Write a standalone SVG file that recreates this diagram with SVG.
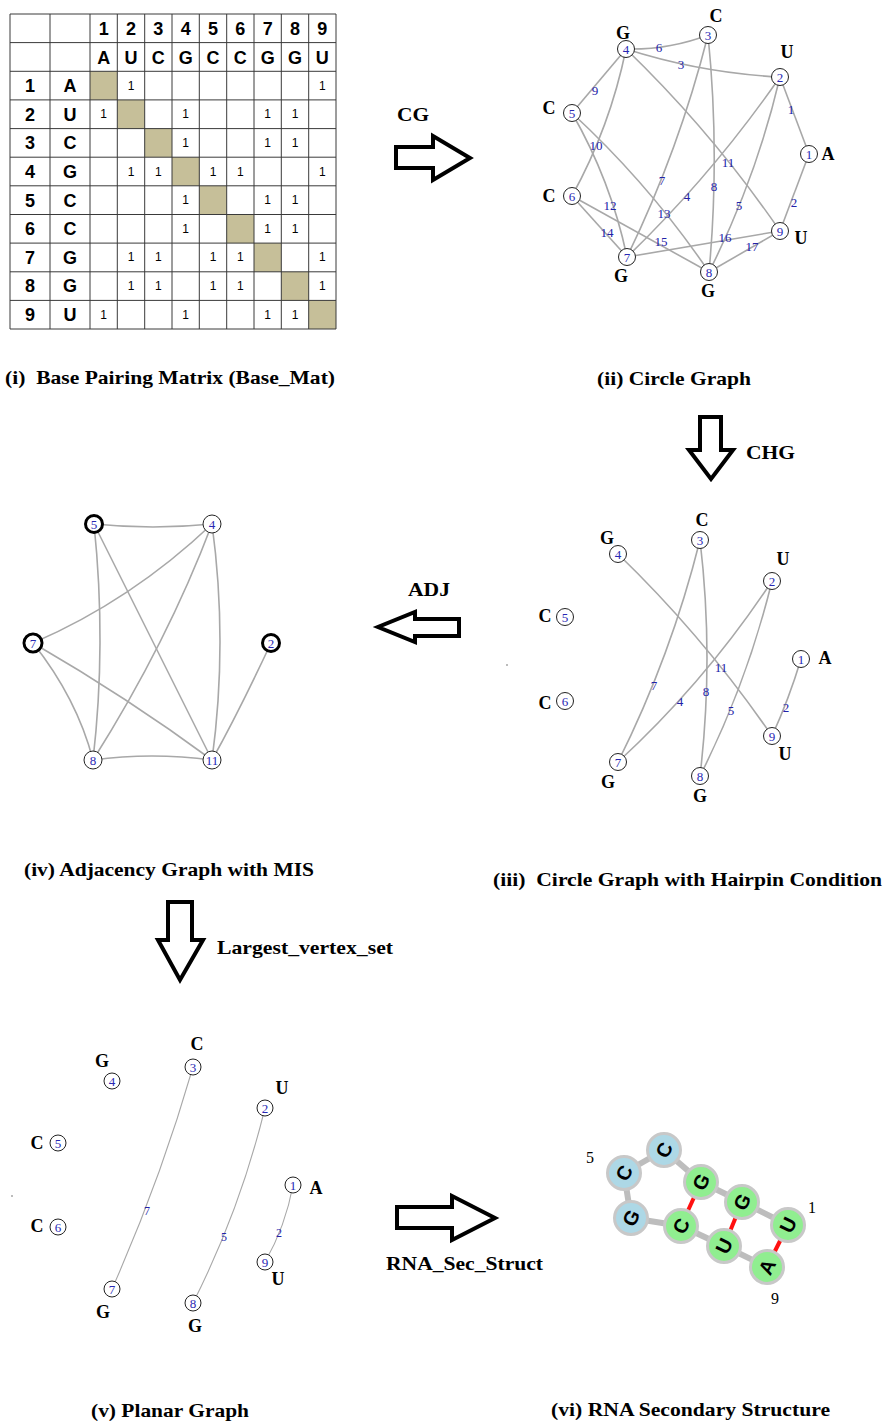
<svg xmlns="http://www.w3.org/2000/svg" width="885" height="1422" viewBox="0 0 885 1422">
<style>
.grid line{stroke:#3a3a3a;stroke-width:1}
.hd{font-family:"Liberation Sans",Arial,sans-serif;font-weight:bold;font-size:18px;fill:#000;text-anchor:middle;dominant-baseline:central}
.one{font-family:"Liberation Sans",Arial,sans-serif;font-size:12px;fill:#000;text-anchor:middle;dominant-baseline:central}
.diag{fill:#c6bf99}
.e{fill:none;stroke:#a8a8a8;stroke-width:1.6}
.e2{fill:none;stroke:#a8a8a8;stroke-width:1.1}
.nd{fill:#fff;stroke:#222;stroke-width:1}
.mis{fill:#fff;stroke:#000;stroke-width:3}
.nn{font-family:"Liberation Serif","Times New Roman",serif;font-size:13px;fill:#2828b4;text-anchor:middle;dominant-baseline:central}
.el{font-family:"Liberation Serif","Times New Roman",serif;font-size:13px;fill:#2222a8;text-anchor:middle;dominant-baseline:central}
.el2{font-family:"Liberation Serif","Times New Roman",serif;font-size:12px;fill:#2222a8;text-anchor:middle;dominant-baseline:central}
.bl{font-family:"Liberation Serif","Times New Roman",serif;font-weight:bold;font-size:18px;fill:#000;text-anchor:middle;dominant-baseline:central}
.cap{font-family:"Liberation Serif","Times New Roman",serif;font-weight:bold;font-size:19px;fill:#000}
.arr{fill:#fff;stroke:#000;stroke-width:4;stroke-linejoin:miter}
.bb{stroke:#bdbdbd;stroke-width:6}
.bp{stroke:#ff1010;stroke-width:4}
.rc{stroke:#c8c8c8;stroke-width:3}
.blue{fill:#add8e6}
.green{fill:#90ee90}
.rl{font-family:"Liberation Sans",Arial,sans-serif;font-weight:bold;font-size:20px;fill:#000;text-anchor:middle;dominant-baseline:central}
.num{font-family:"Liberation Serif","Times New Roman",serif;font-size:16px;fill:#000;text-anchor:middle;dominant-baseline:central}
</style>
<rect x="0" y="0" width="885" height="1422" fill="#fff"/>

<!-- (i) matrix -->
<g id="matrix">
  <g class="diag">
    <rect x="90" y="71.3" width="27.3" height="28.6"/>
    <rect x="117.3" y="99.9" width="27.4" height="28.7"/>
    <rect x="144.7" y="128.6" width="27.3" height="28.6"/>
    <rect x="172" y="157.2" width="27.3" height="28.6"/>
    <rect x="199.3" y="185.8" width="27.4" height="28.7"/>
    <rect x="226.7" y="214.5" width="27.3" height="28.6"/>
    <rect x="254" y="243.1" width="27.3" height="28.7"/>
    <rect x="281.3" y="271.8" width="27.4" height="28.6"/>
    <rect x="308.7" y="300.4" width="27.3" height="28.6"/>
  </g>
  <g class="grid">
    <line x1="10" y1="14" x2="10" y2="329"/><line x1="50" y1="14" x2="50" y2="329"/><line x1="90" y1="14" x2="90" y2="329"/>
    <line x1="117.3" y1="14" x2="117.3" y2="329"/><line x1="144.7" y1="14" x2="144.7" y2="329"/><line x1="172" y1="14" x2="172" y2="329"/>
    <line x1="199.3" y1="14" x2="199.3" y2="329"/><line x1="226.7" y1="14" x2="226.7" y2="329"/><line x1="254" y1="14" x2="254" y2="329"/>
    <line x1="281.3" y1="14" x2="281.3" y2="329"/><line x1="308.7" y1="14" x2="308.7" y2="329"/><line x1="336" y1="14" x2="336" y2="329"/>
    <line x1="10" y1="14" x2="336" y2="14"/><line x1="10" y1="42.6" x2="336" y2="42.6"/><line x1="10" y1="71.3" x2="336" y2="71.3"/>
    <line x1="10" y1="99.9" x2="336" y2="99.9"/><line x1="10" y1="128.6" x2="336" y2="128.6"/><line x1="10" y1="157.2" x2="336" y2="157.2"/>
    <line x1="10" y1="185.8" x2="336" y2="185.8"/><line x1="10" y1="214.5" x2="336" y2="214.5"/><line x1="10" y1="243.1" x2="336" y2="243.1"/>
    <line x1="10" y1="271.8" x2="336" y2="271.8"/><line x1="10" y1="300.4" x2="336" y2="300.4"/><line x1="10" y1="329" x2="336" y2="329"/>
  </g>
  <g class="hd">
    <text x="103.7" y="29">1</text><text x="131" y="29">2</text><text x="158.3" y="29">3</text><text x="185.7" y="29">4</text><text x="213" y="29">5</text><text x="240.3" y="29">6</text><text x="267.7" y="29">7</text><text x="295" y="29">8</text><text x="322.3" y="29">9</text>
    <text x="103.7" y="57.5">A</text><text x="131" y="57.5">U</text><text x="158.3" y="57.5">C</text><text x="185.7" y="57.5">G</text><text x="213" y="57.5">C</text><text x="240.3" y="57.5">C</text><text x="267.7" y="57.5">G</text><text x="295" y="57.5">G</text><text x="322.3" y="57.5">U</text>
    <text x="30" y="86">1</text><text x="70" y="86">A</text>
    <text x="30" y="114.6">2</text><text x="70" y="114.6">U</text>
    <text x="30" y="143.3">3</text><text x="70" y="143.3">C</text>
    <text x="30" y="171.9">4</text><text x="70" y="171.9">G</text>
    <text x="30" y="200.5">5</text><text x="70" y="200.5">C</text>
    <text x="30" y="229.2">6</text><text x="70" y="229.2">C</text>
    <text x="30" y="257.8">7</text><text x="70" y="257.8">G</text>
    <text x="30" y="286.4">8</text><text x="70" y="286.4">G</text>
    <text x="30" y="315.1">9</text><text x="70" y="315.1">U</text>
  </g>
  <g class="one">
    <text x="131" y="85.6">1</text><text x="322.3" y="85.6">1</text>
    <text x="103.7" y="114.2">1</text><text x="185.7" y="114.2">1</text><text x="267.7" y="114.2">1</text><text x="295" y="114.2">1</text>
    <text x="185.7" y="142.9">1</text><text x="267.7" y="142.9">1</text><text x="295" y="142.9">1</text>
    <text x="131" y="171.5">1</text><text x="158.3" y="171.5">1</text><text x="213" y="171.5">1</text><text x="240.3" y="171.5">1</text><text x="322.3" y="171.5">1</text>
    <text x="185.7" y="200.1">1</text><text x="267.7" y="200.1">1</text><text x="295" y="200.1">1</text>
    <text x="185.7" y="228.8">1</text><text x="267.7" y="228.8">1</text><text x="295" y="228.8">1</text>
    <text x="131" y="257.4">1</text><text x="158.3" y="257.4">1</text><text x="213" y="257.4">1</text><text x="240.3" y="257.4">1</text><text x="322.3" y="257.4">1</text>
    <text x="131" y="286">1</text><text x="158.3" y="286">1</text><text x="213" y="286">1</text><text x="240.3" y="286">1</text><text x="322.3" y="286">1</text>
    <text x="103.7" y="314.7">1</text><text x="185.7" y="314.7">1</text><text x="267.7" y="314.7">1</text><text x="295" y="314.7">1</text>
  </g>
</g>

<!-- arrows and labels -->
<g id="arrows">
  <polygon class="arr" points="396,147 433,147 433,136 470,158 433,180 433,168 396,168"/>
  <text class="cap" x="397" y="121" font-size="18" textLength="32" lengthAdjust="spacingAndGlyphs">CG</text>
  <polygon class="arr" points="700,417 721,417 721,450 733,450 711,479 689,450 700,450"/>
  <text class="cap" x="746" y="459" font-size="18" textLength="49" lengthAdjust="spacingAndGlyphs">CHG</text>
  <polygon class="arr" points="459,619 415,619 415,612 378,627 415,642 415,636 459,636"/>
  <text class="cap" x="408" y="596" font-size="18" textLength="42" lengthAdjust="spacingAndGlyphs">ADJ</text>
  <polygon class="arr" points="168,902 192,902 192,940 203,940 180,980 158,940 168,940"/>
  <text class="cap" x="217" y="954" font-size="18" textLength="176" lengthAdjust="spacingAndGlyphs">Largest_vertex_set</text>
  <polygon class="arr" points="397,1207 452,1207 452,1196 495,1218 452,1240 452,1228 397,1228"/>
  <text class="cap" x="386" y="1270" font-size="18" textLength="157" lengthAdjust="spacingAndGlyphs">RNA_Sec_Struct</text>
</g>

<!-- captions -->
<g id="captions">
  <text class="cap" x="5" y="384" textLength="330" lengthAdjust="spacingAndGlyphs">(i)&#160; Base Pairing Matrix (Base_Mat)</text>
  <text class="cap" x="597" y="385" textLength="154" lengthAdjust="spacingAndGlyphs">(ii) Circle Graph</text>
  <text class="cap" x="24" y="876" textLength="290" lengthAdjust="spacingAndGlyphs">(iv) Adjacency Graph with MIS</text>
  <text class="cap" x="493" y="886" textLength="389" lengthAdjust="spacingAndGlyphs">(iii)&#160; Circle Graph with Hairpin Condition</text>
  <text class="cap" x="91" y="1417" textLength="158" lengthAdjust="spacingAndGlyphs">(v) Planar Graph</text>
  <text class="cap" x="551" y="1416" textLength="279" lengthAdjust="spacingAndGlyphs">(vi) RNA Secondary Structure</text>
</g>

<!-- (ii) circle graph -->
<g id="cg-edges">
  <path class="e" d="M780,77 L809,154"/>
  <path class="e" d="M809,154 L780,231"/>
  <path class="e" d="M626,49 Q701,73 780,77"/>
  <path class="e" d="M780,77 Q712,175 627,257"/>
  <path class="e" d="M780,77 Q756,179 709,272"/>
  <path class="e" d="M626,49 Q669,50 708,35"/>
  <path class="e" d="M708,35 Q679,150 627,257"/>
  <path class="e" d="M708,35 Q720,154 709,272"/>
  <path class="e" d="M626,49 L572,113"/>
  <path class="e" d="M626,49 Q610,127 572,196"/>
  <path class="e" d="M626,49 Q712,132 780,231"/>
  <path class="e" d="M572,113 Q611,181 627,257"/>
  <path class="e" d="M572,113 Q650,185 709,272"/>
  <path class="e" d="M572,196 L627,257"/>
  <path class="e" d="M572,196 L709,272"/>
  <path class="e" d="M627,257 L780,231"/>
  <path class="e" d="M709,272 L780,231"/>
  <g class="el">
    <text x="791" y="109">1</text><text x="794" y="202">2</text><text x="681" y="64">3</text><text x="687" y="196">4</text>
    <text x="739" y="205">5</text><text x="659" y="47">6</text><text x="662" y="180">7</text><text x="714" y="186">8</text>
    <text x="595" y="90">9</text><text x="596" y="145">10</text><text x="728" y="162">11</text><text x="610" y="205">12</text>
    <text x="664" y="213">13</text><text x="607" y="232">14</text><text x="661" y="241">15</text><text x="725" y="237">16</text>
    <text x="752" y="246">17</text>
  </g>
</g>
<g id="cg-n1"><circle class="nd" cx="809" cy="154" r="8.5"/><text class="nn" x="809" y="154">1</text><text class="bl" x="828" y="154">A</text></g>
<g id="cg-n2"><circle class="nd" cx="780" cy="77" r="8.5"/><text class="nn" x="780" y="77">2</text><text class="bl" x="787" y="52">U</text></g>
<g id="cg-n3"><circle class="nd" cx="708" cy="35" r="8.5"/><text class="nn" x="708" y="35">3</text><text class="bl" x="716" y="16">C</text></g>
<g id="cg-n4"><circle class="nd" cx="626" cy="49" r="8.5"/><text class="nn" x="626" y="49">4</text><text class="bl" x="623" y="33">G</text></g>
<g id="cg-n5"><circle class="nd" cx="572" cy="113" r="8.5"/><text class="nn" x="572" y="113">5</text><text class="bl" x="549" y="108">C</text></g>
<g id="cg-n6"><circle class="nd" cx="572" cy="196" r="8.5"/><text class="nn" x="572" y="196">6</text><text class="bl" x="549" y="196">C</text></g>
<g id="cg-n7"><circle class="nd" cx="627" cy="257" r="8.5"/><text class="nn" x="627" y="257">7</text><text class="bl" x="621" y="276">G</text></g>
<g id="cg-n8"><circle class="nd" cx="709" cy="272" r="8.5"/><text class="nn" x="709" y="272">8</text><text class="bl" x="708" y="291">G</text></g>
<g id="cg-n9"><circle class="nd" cx="780" cy="231" r="8.5"/><text class="nn" x="780" y="231">9</text><text class="bl" x="801" y="238">U</text></g>

<!-- (iii) hairpin circle graph -->
<g id="hg-edges">
  <path class="e" d="M801,659 Q789,699 772,736"/>
  <path class="e" d="M772,581 Q706,681 618,762"/>
  <path class="e" d="M772,581 Q747,683 700,776"/>
  <path class="e" d="M700,540 Q671,656 618,762"/>
  <path class="e" d="M700,540 Q714,658 700,776"/>
  <path class="e" d="M618,554 Q704,637 772,736"/>
  <g class="el">
    <text x="721" y="667">11</text><text x="654" y="685">7</text><text x="680" y="701">4</text>
    <text x="706" y="691">8</text><text x="731" y="710">5</text><text x="786" y="707">2</text>
  </g>
  <circle cx="507" cy="665" r="0.8" fill="#666"/>
</g>
<g id="hg-n1"><circle class="nd" cx="801" cy="659" r="8.5"/><text class="nn" x="801" y="659">1</text><text class="bl" x="825" y="658">A</text></g>
<g id="hg-n2"><circle class="nd" cx="772" cy="581" r="8.5"/><text class="nn" x="772" y="581">2</text><text class="bl" x="783" y="559">U</text></g>
<g id="hg-n3"><circle class="nd" cx="700" cy="540" r="8.5"/><text class="nn" x="700" y="540">3</text><text class="bl" x="702" y="520">C</text></g>
<g id="hg-n4"><circle class="nd" cx="618" cy="554" r="8.5"/><text class="nn" x="618" y="554">4</text><text class="bl" x="607" y="538">G</text></g>
<g id="hg-n5"><circle class="nd" cx="565" cy="617" r="8.5"/><text class="nn" x="565" y="617">5</text><text class="bl" x="545" y="616">C</text></g>
<g id="hg-n6"><circle class="nd" cx="565" cy="701" r="8.5"/><text class="nn" x="565" y="701">6</text><text class="bl" x="545" y="703">C</text></g>
<g id="hg-n7"><circle class="nd" cx="618" cy="762" r="8.5"/><text class="nn" x="618" y="762">7</text><text class="bl" x="608" y="782">G</text></g>
<g id="hg-n8"><circle class="nd" cx="700" cy="776" r="8.5"/><text class="nn" x="700" y="776">8</text><text class="bl" x="700" y="796">G</text></g>
<g id="hg-n9"><circle class="nd" cx="772" cy="736" r="8.5"/><text class="nn" x="772" y="736">9</text><text class="bl" x="785" y="754">U</text></g>

<!-- (iv) adjacency graph -->
<g id="adj-edges">
  <path class="e" d="M94,524 Q153,530 212,524"/>
  <path class="e" d="M94,524 Q106.5,644 93,760"/>
  <path class="e" d="M94,524 L212,760"/>
  <path class="e" d="M212,524 Q131.5,600.5 33,643"/>
  <path class="e" d="M212,524 Q167.5,642 93,760"/>
  <path class="e" d="M212,524 Q228,642 212,760"/>
  <path class="e" d="M33,643 Q77,698.5 93,760"/>
  <path class="e" d="M33,643 Q128,698 212,760"/>
  <path class="e" d="M271,643 Q238.5,712.5 212,760"/>
  <path class="e" d="M93,760 Q151.5,752 212,760"/>
</g>
<g id="adj-n5"><circle class="mis" cx="94" cy="524" r="8.5"/><text class="nn" x="94" y="524" font-size="14">5</text></g>
<g id="adj-n4"><circle class="nd" cx="212" cy="524" r="9"/><text class="nn" x="212" y="524" font-size="14">4</text></g>
<g id="adj-n7"><circle class="mis" cx="33" cy="643" r="9"/><circle cx="33" cy="643" r="6.8" fill="none" stroke="#fff" stroke-width="0.8"/><text class="nn" x="33" y="643" font-size="14">7</text></g>
<g id="adj-n2"><circle class="mis" cx="271" cy="643" r="8.5"/><text class="nn" x="271" y="643" font-size="14">2</text></g>
<g id="adj-n8"><circle class="nd" cx="93" cy="760" r="9"/><text class="nn" x="93" y="760" font-size="14">8</text></g>
<g id="adj-n11"><circle class="nd" cx="212" cy="760" r="9"/><text class="nn" x="212" y="760" font-size="14">11</text></g>

<!-- (v) planar graph -->
<g id="pl-edges">
  <path class="e2" d="M193,1067 Q160,1181 112,1289"/>
  <path class="e2" d="M265,1108 Q240,1210 193,1303"/>
  <path class="e2" d="M293,1185 Q285.6,1226 265,1262"/>
  <g class="el2">
    <text x="147" y="1211">7</text><text x="224" y="1237">5</text><text x="279" y="1233">2</text>
  </g>
  <circle cx="12" cy="1196" r="0.8" fill="#666"/>
</g>
<g id="pl-n1"><circle class="nd" cx="293" cy="1185" r="8"/><text class="nn" x="293" y="1185" font-size="12">1</text><text class="bl" x="316" y="1188">A</text></g>
<g id="pl-n2"><circle class="nd" cx="265" cy="1108" r="8"/><text class="nn" x="265" y="1108" font-size="12">2</text><text class="bl" x="282" y="1088">U</text></g>
<g id="pl-n3"><circle class="nd" cx="193" cy="1067" r="8"/><text class="nn" x="193" y="1067" font-size="12">3</text><text class="bl" x="197" y="1044">C</text></g>
<g id="pl-n4"><circle class="nd" cx="112" cy="1081" r="8"/><text class="nn" x="112" y="1081" font-size="12">4</text><text class="bl" x="102" y="1061">G</text></g>
<g id="pl-n5"><circle class="nd" cx="58" cy="1143" r="8"/><text class="nn" x="58" y="1143" font-size="12">5</text><text class="bl" x="37" y="1143">C</text></g>
<g id="pl-n6"><circle class="nd" cx="58" cy="1227" r="8"/><text class="nn" x="58" y="1227" font-size="12">6</text><text class="bl" x="37" y="1226">C</text></g>
<g id="pl-n7"><circle class="nd" cx="112" cy="1289" r="8"/><text class="nn" x="112" y="1289" font-size="12">7</text><text class="bl" x="103" y="1312">G</text></g>
<g id="pl-n8"><circle class="nd" cx="193" cy="1303" r="8"/><text class="nn" x="193" y="1303" font-size="12">8</text><text class="bl" x="195" y="1326">G</text></g>
<g id="pl-n9"><circle class="nd" cx="265" cy="1262" r="8"/><text class="nn" x="265" y="1262" font-size="12">9</text><text class="bl" x="278" y="1279">U</text></g>

<!-- (vi) RNA secondary structure -->
<g id="rna-links">
  <line class="bb" x1="767" y1="1267" x2="724" y2="1246"/>
  <line class="bb" x1="724" y1="1246" x2="681" y2="1226"/>
  <line class="bb" x1="681" y1="1226" x2="631" y2="1218"/>
  <line class="bb" x1="631" y1="1218" x2="624" y2="1173"/>
  <line class="bb" x1="624" y1="1173" x2="664" y2="1150"/>
  <line class="bb" x1="664" y1="1150" x2="701" y2="1182"/>
  <line class="bb" x1="701" y1="1182" x2="742" y2="1202"/>
  <line class="bb" x1="742" y1="1202" x2="788" y2="1225"/>
  <line class="bp" x1="701" y1="1182" x2="681" y2="1226"/>
  <line class="bp" x1="742" y1="1202" x2="724" y2="1246"/>
  <line class="bp" x1="788" y1="1225" x2="767" y2="1267"/>
</g>
<g id="rna-1"><circle class="rc green" cx="767" cy="1267" r="16.5"/><text class="rl" transform="translate(767,1267) rotate(-64)">A</text></g>
<g id="rna-2"><circle class="rc green" cx="724" cy="1246" r="16.5"/><text class="rl" transform="translate(724,1246) rotate(-64)">U</text></g>
<g id="rna-3"><circle class="rc green" cx="681" cy="1226" r="16.5"/><text class="rl" transform="translate(681,1226) rotate(-64)">C</text></g>
<g id="rna-4"><circle class="rc blue" cx="631" cy="1218" r="16.5"/><text class="rl" transform="translate(631,1218) rotate(-64)">G</text></g>
<g id="rna-5"><circle class="rc blue" cx="624" cy="1173" r="16.5"/><text class="rl" transform="translate(624,1173) rotate(-64)">C</text></g>
<g id="rna-6"><circle class="rc blue" cx="664" cy="1150" r="16.5"/><text class="rl" transform="translate(664,1150) rotate(-64)">C</text></g>
<g id="rna-7"><circle class="rc green" cx="701" cy="1182" r="16.5"/><text class="rl" transform="translate(701,1182) rotate(-64)">G</text></g>
<g id="rna-8"><circle class="rc green" cx="742" cy="1202" r="16.5"/><text class="rl" transform="translate(742,1202) rotate(-64)">G</text></g>
<g id="rna-9"><circle class="rc green" cx="788" cy="1225" r="16.5"/><text class="rl" transform="translate(788,1225) rotate(-64)">U</text></g>
<g id="rna-nums">
  <text class="num" x="590" y="1157">5</text>
  <text class="num" x="812" y="1207">1</text>
  <text class="num" x="775" y="1298">9</text>
</g>
</svg>
